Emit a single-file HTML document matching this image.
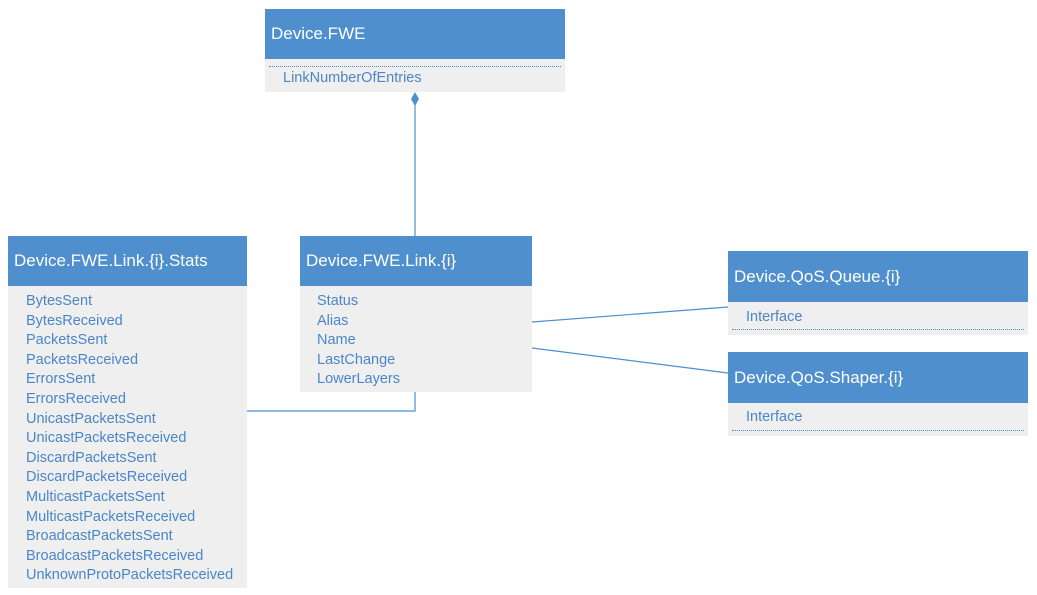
<!DOCTYPE html>
<html><head><style>
body{margin:0;width:1037px;height:595px;background:#fff;position:relative;overflow:hidden;font-family:"Liberation Sans",sans-serif}
.b{position:absolute;background:#efefef}
.h{position:absolute;left:0;right:0;top:0;background:#4f8fcd;color:#fff;font-size:17px;padding-left:6px;box-sizing:border-box}
.i{position:absolute;color:#4a86c8;font-size:14.5px;line-height:19.6px;white-space:nowrap}
.d{position:absolute;border-top:1px dotted #4f8fcd}
</style></head><body>
<svg style="position:absolute;left:0;top:0" width="1037" height="595">
<g stroke="#4f8fcd" stroke-width="1.2" fill="none">
<line x1="415" y1="104" x2="415" y2="236"/>
<polyline points="415,392 415,411 247,411"/>
<line x1="532" y1="322" x2="728" y2="307"/>
<line x1="532" y1="348" x2="728" y2="373"/>
</g>
<polygon points="415,92 419,99 415,106 411,99" fill="#4f8fcd"/>
</svg>

<div class="b" style="left:265px;top:9px;width:300px;height:83px">
<div class="h" style="height:50px;line-height:50px">Device.FWE</div>
<div class="d" style="left:4px;right:4px;top:57px"></div>
<div class="i" style="left:18px;top:60px">LinkNumberOfEntries</div>
</div>

<div class="b" style="left:8px;top:236px;width:239px;height:352px">
<div class="h" style="height:50px;line-height:50px">Device.FWE.Link.{i}.Stats</div>
<div class="i" style="left:18px;top:56px">BytesSent<br>BytesReceived<br>PacketsSent<br>PacketsReceived<br>ErrorsSent<br>ErrorsReceived<br>UnicastPacketsSent<br>UnicastPacketsReceived<br>DiscardPacketsSent<br>DiscardPacketsReceived<br>MulticastPacketsSent<br>MulticastPacketsReceived<br>BroadcastPacketsSent<br>BroadcastPacketsReceived<br>UnknownProtoPacketsReceived</div>
</div>

<div class="b" style="left:300px;top:236px;width:232px;height:156px">
<div class="h" style="height:50px;line-height:50px">Device.FWE.Link.{i}</div>
<div class="i" style="left:17px;top:56px">Status<br>Alias<br>Name<br>LastChange<br>LowerLayers</div>
</div>

<div class="b" style="left:728px;top:251px;width:300px;height:84px">
<div class="h" style="height:51px;line-height:51px">Device.QoS.Queue.{i}</div>
<div class="i" style="left:18px;top:57px">Interface</div>
<div class="d" style="left:4px;right:4px;top:78px"></div>
</div>

<div class="b" style="left:728px;top:352px;width:300px;height:84px">
<div class="h" style="height:51px;line-height:51px">Device.QoS.Shaper.{i}</div>
<div class="i" style="left:18px;top:56px">Interface</div>
<div class="d" style="left:4px;right:4px;top:78px"></div>
</div>
</body></html>
